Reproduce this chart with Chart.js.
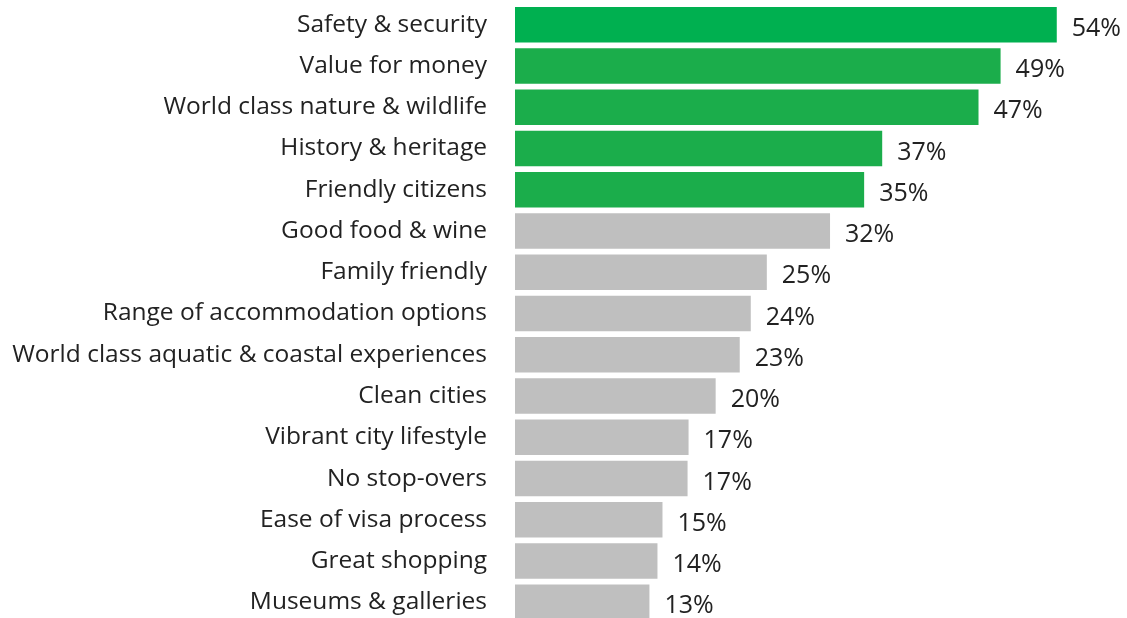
<!DOCTYPE html>
<html lang="en">
  <head>
    <meta charset="utf-8" />
    <title>Destination attributes</title>
    <script src="https://cdn.jsdelivr.net/npm/chart.js"></script>
    <style>
      html,
      body {
        margin: 0;
        padding: 0;
        background: #fff;
        overflow: hidden;
      }
      canvas {
        display: block;
      }
    </style>
  </head>
  <body>
    <canvas id="bars" width="1127" height="623"></canvas>

    <script>
      // data
      var categories = [
        "Safety & security",
        "Value for money",
        "World class nature & wildlife",
        "History & heritage",
        "Friendly citizens",
        "Good food & wine",
        "Family friendly",
        "Range of accommodation options",
        "World class aquatic & coastal experiences",
        "Clean cities",
        "Vibrant city lifestyle",
        "No stop-overs",
        "Ease of visa process",
        "Great shopping",
        "Museums & galleries",
      ];
      // bar lengths (estimated from the bars)
      var barValues = [54.0, 48.4, 46.2, 36.6, 34.8, 31.4, 25.1, 23.5, 22.4, 20.0, 17.3, 17.2, 14.7, 14.2, 13.4];
      // printed labels
      var shownPct = [54, 49, 47, 37, 35, 32, 25, 24, 23, 20, 17, 17, 15, 14, 13];

      var topColor = "#00b050";
      var greenColor = "#1bad4b";
      var greyColor = "#bfbfbf";
      var colors = categories.map((c, i) =>
        i == 0 ? topColor : i < 5 ? greenColor : greyColor
      );

      var textFont = "'Open Sans', sans-serif";

      // draws the % next to each bar
      var valueLabels = {
        id: "valueLabels",
        afterDatasetsDraw(chart) {
          var ctx = chart.ctx;
          var meta = chart.getDatasetMeta(0);
          ctx.save();
          ctx.font = "25px " + textFont;
          ctx.fillStyle = "#222";
          ctx.textAlign = "left";
          ctx.textBaseline = "middle";
          meta.data.forEach((bar, i) => {
            ctx.fillText(shownPct[i] + "%", bar.x + 15, bar.y + 4);
          });
          ctx.restore();
        },
      };

      var chart = new Chart(document.getElementById("bars"), {
        type: "bar",
        data: {
          labels: categories,
          datasets: [
            {
              data: barValues,
              backgroundColor: colors,
              barPercentage: 0.86,
              categoryPercentage: 1,
            },
          ],
        },
        options: {
          indexAxis: "y",
          responsive: false,
          animation: false,
          layout: { padding: { top: 4, left: 0, right: 0, bottom: 0 } },
          plugins: {
            legend: { display: false },
            tooltip: { enabled: false },
          },
          scales: {
            x: {
              display: false,
              min: 0,
              max: 61,
            },
            y: {
              afterFit: (scale) => {
                scale.width = 515;
                scale.paddingTop = 0;
                scale.paddingBottom = 0;
              },
              grid: { display: false, drawTicks: false },
              border: { display: false },
              ticks: {
                padding: 28,
                color: "#222",
                font: { family: textFont, size: 24.5 },
              },
            },
          },
        },
        plugins: [valueLabels],
      });
    </script>
  </body>
</html>
